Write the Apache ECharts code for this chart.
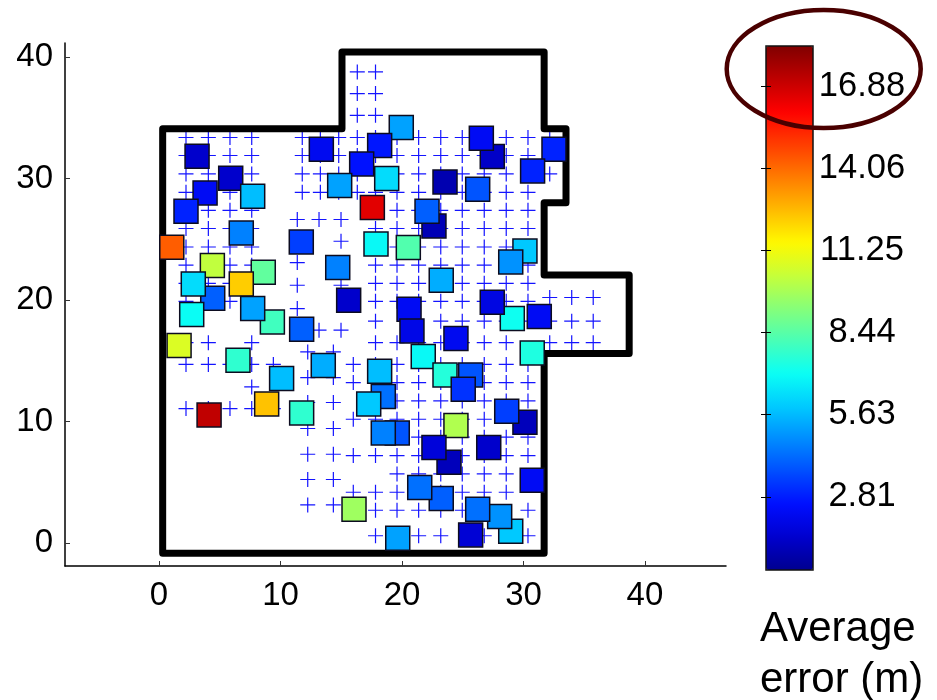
<!DOCTYPE html>
<html><head><meta charset="utf-8">
<style>html,body{margin:0;padding:0;background:#fff}#c{width:937px;height:700px}</style>
<script src="https://cdn.jsdelivr.net/npm/echarts@6/dist/echarts.min.js"></script>
</head><body><div id="c"></div>
<script>
const squareX = [3.13,5.90,3.79,7.71,2.22,6.77,1.05,4.39,8.58,4.42,2.82,6.77,9.33,7.71,2.69,11.74,1.65,6.50,10.09,13.52,4.12,8.86,11.74,18.16,18.46,17.26,19.61,18.46,16.05,19.65,13.36,19.94,18.16,16.68,18.74,14.87,17.56,22.63,22.06,17.86,20.52,11.71,14.71,15.61,29.08,27.43,20.58,20.82,27.43,26.53,32.51,30.75,23.54,26.23,30.12,28.95,23.23,31.30,24.44,30.72,21.75,25.65,23.54,25.04,30.12,28.62,24.44,23.87,22.63,27.14,30.72,23.23,21.46,28.95,28.04,26.23,25.65];
const squareY = [31.82,30.02,28.81,28.53,27.30,25.51,24.34,22.83,22.28,20.14,21.32,21.32,18.19,19.29,18.80,17.59,16.25,15.04,13.53,14.60,10.53,11.44,10.70,14.13,12.05,11.44,9.05,9.05,2.77,0.39,32.40,34.19,32.71,31.19,29.99,29.42,27.60,26.09,27.30,24.61,24.31,24.77,22.67,19.98,18.47,19.81,19.23,17.45,31.80,33.31,32.40,30.62,29.71,29.11,24.03,23.13,21.62,18.63,16.82,15.64,15.34,13.83,13.83,12.65,9.93,10.84,9.66,6.64,7.85,7.85,5.16,3.65,4.56,0.96,2.17,2.77,0.66];
const squareError = [1.4,1.4,2.3,5.7,2.9,4.6,14.3,10.3,8.6,4.0,6.3,12.3,8.0,5.2,7.0,4.0,10.8,7.7,5.7,5.4,17.1,12.5,7.7,5.7,4.3,5.9,3.8,4.6,9.7,5.2,2.2,5.2,2.7,2.6,6.3,5.2,16.5,1.0,4.0,6.9,8.3,3.4,4.6,1.4,7.1,1.9,2.3,2.0,1.3,2.3,2.9,2.9,0.9,3.8,5.9,4.9,5.4,2.3,2.2,7.4,6.9,3.8,7.5,3.2,1.1,3.4,10.0,1.1,1.7,1.4,2.3,4.0,4.3,5.9,4.9,4.3,1.6];

const crossRows = [
 [38.77,[16.32,17.82]],
 [36.99,[16.32,17.82]],
 [35.2,[16.32,17.82]],
 [33.37,[2.22,4.06,5.84,7.63,11.79,13.28,14.79,16.32,17.82,19.59,21.37,23.19,24.96,26.77,28.58,30.37,32.16]],
 [31.89,[2.22,4.06,5.84,7.63,11.79,13.28,14.79,16.32,17.82,19.59,21.37,23.19,24.96,26.77,28.58,30.37]],
 [30.37,[2.22,4.06,5.84,7.63,11.79,13.28,14.79,16.32,17.82,19.59,21.37,23.19,24.96,26.77,28.58,30.37,32.16]],
 [28.86,[2.22,4.06,5.84,7.63,11.79,13.28,14.79,16.32,17.82,19.59,21.37,23.19,24.96,26.77,28.58,30.37]],
 [27.38,[4.06,5.84,7.63,19.59,21.37,23.19,24.96,26.77,28.58,30.37]],
 [26.62,[11.38,13.17,14.98]],
 [25.88,[2.22,4.06,5.84,7.63,17.82,19.59,21.37,23.19,24.96,26.77,28.58,30.37]],
 [24.83,[14.98]],
 [24.36,[2.22,4.06,5.84,7.63,17.82,19.59,21.37,23.19,24.96,26.77,28.58,30.37]],
 [23.08,[11.38]],
 [22.86,[2.22,5.84,7.63,17.82,19.59,21.37,23.19,24.96,26.77,28.58,30.37]],
 [21.37,[2.22,4.06,5.84,7.63,17.82,19.59,21.37,23.19,24.96,26.77,28.58,30.37]],
 [21.21,[11.38,14.98]],
 [20.2,[32.16,33.97,35.74]],
 [19.89,[2.22,4.06,5.84,7.63,17.82,19.59,21.37,23.19,24.96,26.77,28.58,30.37]],
 [19.29,[11.38]],
 [18.25,[17.82,23.19,24.96,26.77,28.58,30.37,32.16,33.97,35.74]],
 [17.51,[13.17,14.98]],
 [16.48,[2.22,4.06,7.63,17.82,19.59,21.37,23.19,24.96,26.77,28.58,32.16,33.97,35.74]],
 [15.72,[12.24,14.35]],
 [14.69,[2.22,4.06,5.84,7.63,9.41,15.99,17.82,19.59,21.37,23.19,24.96,26.77,28.58,30.37]],
 [13.61,[12.24,14.35]],
 [13.2,[15.99,19.59,21.37,23.19,24.96,26.77,28.58,30.37]],
 [12.84,[7.63]],
 [11.69,[19.59,21.37,23.19,24.96,26.77,28.58,30.37]],
 [11.56,[12.24,14.35]],
 [11.06,[2.22,4.06,5.84,7.63,9.41]],
 [10.18,[15.99,17.82,19.59,21.37,23.19,24.96,26.77]],
 [9.42,[12.24,14.35]],
 [8.7,[21.37,23.19,24.96,26.77,28.58,30.37]],
 [7.3,[12.24,14.35]],
 [7.19,[15.99,17.82,19.59,21.37,23.19,24.96,26.77,28.58,30.37]],
 [5.68,[19.59,21.37,23.19,24.96,26.77,28.58]],
 [5.22,[12.24,14.35]],
 [4.17,[15.99,17.82,19.59,23.19,24.96,26.77,28.58]],
 [3.13,[12.24,14.35]],
 [2.69,[17.82,19.59,21.37,23.19,24.96,30.37]],
 [0.59,[17.82,21.37,23.19,26.77,30.37]]
];
const outline = [[0.3,-0.85],[0.3,34.1],[15.06,34.1],[15.06,40.4],[31.7,40.4],[31.7,34.1],[33.5,34.1],[33.5,28.0],[31.7,28.0],[31.7,22.05],[38.7,22.05],[38.7,15.6],[31.7,15.6],[31.7,-0.85],[0.3,-0.85]];
const xTicks = [0,10,20,30,40];
const yTicks = [0,10,20,30,40];
const errorTicks = [2.81,5.63,8.44,11.25,14.06,16.88];
const errorLabels = ['2.81','5.63','8.44','11.25','14.06','16.88'];
const errorMin = 0.31, errorMax = 18.25;
const jetColors = ['#00008f','#0000ce','#000eff','#004dff','#008cff','#00caff','#0afff5','#49ffb6','#87ff78','#c7ff38','#fff900','#ffba00','#ff7b00','#ff3d00','#fe0000','#be0000','#800000'];

const squares = squareX.map((x,i)=>[x,squareY[i],squareError[i]]);
const crosses = crossRows.flatMap(r=>r[1].map(x=>[x,r[0]]));
const FONT = '"Liberation Sans", Arial, sans-serif';

const chart = echarts.init(document.getElementById('c'),null,{renderer:'canvas'});
chart.setOption({
  animation:false,
  backgroundColor:'#fff',
  title:{text:'Average\nerror (m)',left:755,top:599,textStyle:{fontFamily:FONT,fontSize:42,fontWeight:'normal',color:'#000',lineHeight:51}},
  grid:[
    {left:65,top:43,width:661,height:523,containLabel:false},
    {left:766,top:46,width:47,height:524,show:true,borderColor:'#111',borderWidth:1.5,backgroundColor:'transparent',z:5}
  ],
  xAxis:[
    {gridIndex:0,type:'value',min:-7.74,max:46.67,splitLine:{show:false},
     axisLine:{onZero:false,lineStyle:{color:'#000',width:1.5}},
     axisTick:{inside:true,length:5,customValues:xTicks,lineStyle:{color:'#333',width:1}},
     axisLabel:{customValues:xTicks,color:'#000',fontSize:33,fontFamily:FONT,margin:13}},
    {gridIndex:1,type:'value',min:0,max:1,show:false}
  ],
  yAxis:[
    {gridIndex:0,type:'value',min:-1.9,max:41.15,splitLine:{show:false},
     axisLine:{onZero:false,lineStyle:{color:'#000',width:1.5}},
     axisTick:{inside:true,length:5,customValues:yTicks,lineStyle:{color:'#333',width:1}},
     axisLabel:{customValues:yTicks,color:'#000',fontSize:33,fontFamily:FONT,margin:12,padding:[6,0,0,0]}},
    {gridIndex:1,type:'value',position:'right',min:errorMin,max:errorMax,splitLine:{show:false},zlevel:1,
     axisLine:{show:false},
     axisTick:{inside:true,length:5,customValues:errorTicks,lineStyle:{color:'#000',width:1}},
     axisLabel:{customValues:errorTicks,align:'center',margin:49,color:'#000',fontSize:34.5,fontFamily:FONT,padding:[5,0,0,0],
       formatter:v=>{const i=errorTicks.findIndex(t=>Math.abs(t-v)<0.01);return i>=0?errorLabels[i]:'';}}},
    {gridIndex:1,type:'value',position:'left',min:errorMin,max:errorMax,splitLine:{show:false},zlevel:1,
     axisLine:{show:false},
     axisTick:{inside:true,length:5,customValues:errorTicks,lineStyle:{color:'#000',width:1}},
     axisLabel:{show:false}}
  ],
  visualMap:{type:'continuous',seriesIndex:2,dimension:2,min:errorMin,max:errorMax,calculable:false,realtime:false,
    left:766,top:46,itemWidth:47,itemHeight:524,padding:0,text:['',''],textGap:0,hoverLink:false,
    inRange:{color:jetColors},z:1},
  series:[
    {type:'scatter',name:'Reference points',xAxisIndex:0,yAxisIndex:0,data:crosses,symbol:'path://M0 5H10M5 0V10',symbolSize:15,silent:true,
     itemStyle:{color:'none',borderColor:'#1414ff',borderWidth:1.2,opacity:1},z:2},
    {type:'line',name:'Floor outline',xAxisIndex:0,yAxisIndex:0,data:outline,showSymbol:false,symbol:'none',clip:false,silent:true,
     lineStyle:{color:'#000',width:7,join:'round',cap:'round'},z:3},
    {type:'scatter',name:'Average error',xAxisIndex:0,yAxisIndex:0,data:squares,symbol:'rect',symbolSize:24,silent:true,
     itemStyle:{borderColor:'#0c0c20',borderWidth:1.5,opacity:1},z:4},
    {type:'line',xAxisIndex:1,yAxisIndex:1,data:[],silent:true}
  ],
  graphic:[{type:'ellipse',shape:{cx:823.7,cy:69,rx:97,ry:59},zlevel:2,silent:true,
    style:{fill:'none',stroke:'#4a0000',lineWidth:4.5}}]
});
</script></body></html>
